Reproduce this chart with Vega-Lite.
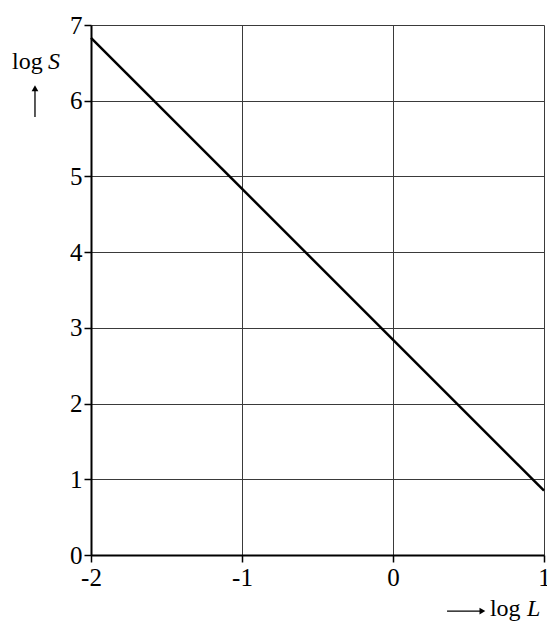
{
  "$schema": "https://vega.github.io/schema/vega-lite/v6.json",
  "width": 453,
  "height": 530,
  "autosize": "none",
  "padding": {"left": 91, "top": 25, "right": 3, "bottom": 67},
  "background": "white",
  "config": {
    "view": {"stroke": null},
    "font": "Liberation Serif, Times New Roman, serif",
    "axis": {
      "labelFont": "Liberation Serif, Times New Roman, serif",
      "labelFontSize": 25,
      "labelColor": "black",
      "domainColor": "black",
      "domainWidth": 2,
      "tickColor": "black",
      "tickWidth": 1.5,
      "tickSize": 7,
      "gridColor": "#3a3a3a",
      "gridWidth": 1,
      "gridOpacity": 1,
      "title": null
    }
  },
  "layer": [
    {
      "data": {"values": [{"logL": -2, "logS": 6.83}, {"logL": 1, "logS": 0.85}]},
      "mark": {"type": "line", "color": "black", "strokeWidth": 2.5, "clip": false},
      "encoding": {
        "x": {
          "field": "logL", "type": "quantitative",
          "scale": {"domain": [-2, 1], "nice": false, "zero": false},
          "axis": {"values": [-2, -1, 0, 1], "labelExpr": "'' + datum.value", "labelPadding": 3, "labelFlush": false}
        },
        "y": {
          "field": "logS", "type": "quantitative",
          "scale": {"domain": [0, 7], "nice": false},
          "axis": {"values": [0, 1, 2, 3, 4, 5, 6, 7], "format": "d", "labelPadding": 2, "labelFlush": false}
        }
      }
    },
    {
      "data": {"values": [
        {"x": -2.523, "y": 6.419, "t": "log"},
        {"x": 0.642, "y": -0.806, "t": "log"}
      ]},
      "mark": {"type": "text", "align": "left", "baseline": "alphabetic", "fontSize": 24, "font": "Liberation Serif, Times New Roman, serif", "color": "black", "clip": false},
      "encoding": {
        "x": {"field": "x", "type": "quantitative"},
        "y": {"field": "y", "type": "quantitative"},
        "text": {"field": "t"}
      }
    },
    {
      "data": {"values": [
        {"x": -2.285, "y": 6.419, "t": "S"},
        {"x": 0.887, "y": -0.806, "t": "L"}
      ]},
      "mark": {"type": "text", "align": "left", "baseline": "alphabetic", "fontSize": 24, "fontStyle": "italic", "font": "Liberation Serif, Times New Roman, serif", "color": "black", "clip": false},
      "encoding": {
        "x": {"field": "x", "type": "quantitative"},
        "y": {"field": "y", "type": "quantitative"},
        "text": {"field": "t"}
      }
    },
    {
      "data": {"values": [{"x": -2.371, "y": 5.785, "y2": 6.17}]},
      "mark": {"type": "rule", "color": "black", "strokeWidth": 1.3, "clip": false},
      "encoding": {
        "x": {"field": "x", "type": "quantitative"},
        "y": {"field": "y", "type": "quantitative"},
        "y2": {"field": "y2"}
      }
    },
    {
      "data": {"values": [{"x": 0.358, "x2": 0.59, "y": -0.74}]},
      "mark": {"type": "rule", "color": "black", "strokeWidth": 1.3, "clip": false},
      "encoding": {
        "x": {"field": "x", "type": "quantitative"},
        "x2": {"field": "x2"},
        "y": {"field": "y", "type": "quantitative"}
      }
    },
    {
      "data": {"values": [{"x": -2.371, "y": 6.165, "s": "triangle-up"}, {"x": 0.592, "y": -0.74, "s": "triangle-right"}]},
      "mark": {"type": "point", "filled": true, "color": "black", "opacity": 1, "size": 45, "clip": false},
      "encoding": {
        "x": {"field": "x", "type": "quantitative"},
        "y": {"field": "y", "type": "quantitative"},
        "shape": {"field": "s", "type": "nominal", "scale": null}
      }
    }
  ]
}
